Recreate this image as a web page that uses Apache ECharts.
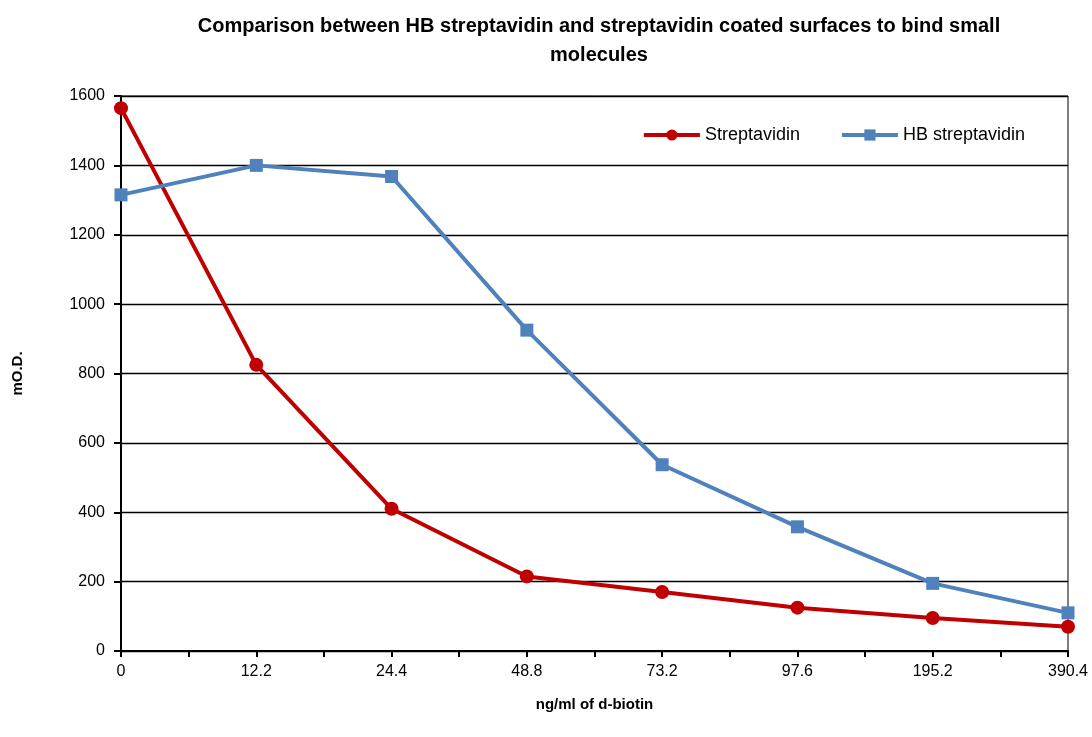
<!DOCTYPE html>
<html>
<head>
<meta charset="utf-8">
<script src="https://cdn.jsdelivr.net/npm/echarts@6/dist/echarts.min.js"></script>
<style>
html,body{margin:0;padding:0;background:#fff;}
#main{width:1092px;height:737px;}
</style>
</head>
<body>
<div id="main"></div>
<script>
// d-biotin doses (ng/ml), plotted evenly spaced
var doses = ['0', '12.2', '24.4', '48.8', '73.2', '97.6', '195.2', '390.4'];
var streptavidin = [1565, 825, 410, 215, 170, 125, 95, 70];
var hbStreptavidin = [1315, 1400, 1368, 925, 537, 358, 195, 110];

function pairs(vals) {
	var out = [];
	for (var i = 0; i < vals.length; i++) {
		out.push([i, vals[i]]);
	}
	return out;
}

var font = 'Liberation Sans';
var myChart = echarts.init(document.getElementById('main'));
var option = {
	animation: false,
	title: {
		text: 'Comparison between HB streptavidin and streptavidin coated surfaces to bind small\nmolecules',
		left: 594,
		textAlign: 'center',
		top: 7,
		textStyle: { fontFamily: font, fontSize: 20, fontWeight: 'bold', color: '#000', lineHeight: 29 }
	},
	legend: {
		top: 121,
		right: 62,
		itemGap: 40,
		itemWidth: 56,
		itemHeight: 14,
		lineStyle: { width: 4 },
		textStyle: { fontFamily: font, fontSize: 18, color: '#000' },
		data: ['Streptavidin', 'HB streptavidin']
	},
	grid: {
		left: 121, right: 24, top: 96, bottom: 86,
		show: true, borderColor: '#000', borderWidth: 1
	},
	xAxis: {
		type: 'value',
		min: 0, max: 7, interval: 1,
		name: 'ng/ml of d-biotin',
		nameLocation: 'middle',
		nameGap: 46,
		nameTextStyle: { fontFamily: font, fontSize: 15, fontWeight: 'bold', color: '#000' },
		axisLine: { lineStyle: { color: '#000', width: 2 } },
		axisTick: { show: true, length: 6, lineStyle: { color: '#000', width: 2 } },
		minorTick: { show: true, splitNumber: 2, length: 6, lineStyle: { color: '#000', width: 2 } },
		splitLine: { show: false },
		axisLabel: {
			fontFamily: font, fontSize: 16, color: '#000', margin: 13,
			formatter: function (v) { return doses[v]; }
		}
	},
	yAxis: {
		type: 'value',
		min: 0, max: 1600, interval: 200,
		name: 'mO.D.',
		nameLocation: 'middle',
		nameGap: 96,
		nameRotate: 90,
		nameTextStyle: { fontFamily: font, fontSize: 15, fontWeight: 'bold', color: '#000' },
		axisLine: { show: true, lineStyle: { color: '#000', width: 2 } },
		axisTick: { show: true, length: 7, lineStyle: { color: '#000', width: 2 } },
		splitLine: { show: true, lineStyle: { color: '#000', width: 1.3 } },
		axisLabel: {
			fontFamily: font, fontSize: 16, color: '#000', margin: 16,
			formatter: function (v) { return String(v); }
		}
	},
	series: [
		{
			name: 'Streptavidin',
			type: 'line',
			data: pairs(streptavidin),
			symbol: 'circle',
			symbolSize: 14,
			lineStyle: { color: '#C00000', width: 4 },
			itemStyle: { color: '#C00000' }
		},
		{
			name: 'HB streptavidin',
			type: 'line',
			data: pairs(hbStreptavidin),
			symbol: 'rect',
			symbolSize: 13,
			lineStyle: { color: '#4F81BD', width: 4 },
			itemStyle: { color: '#4F81BD' }
		}
	]
};
myChart.setOption(option);
</script>
</body>
</html>
